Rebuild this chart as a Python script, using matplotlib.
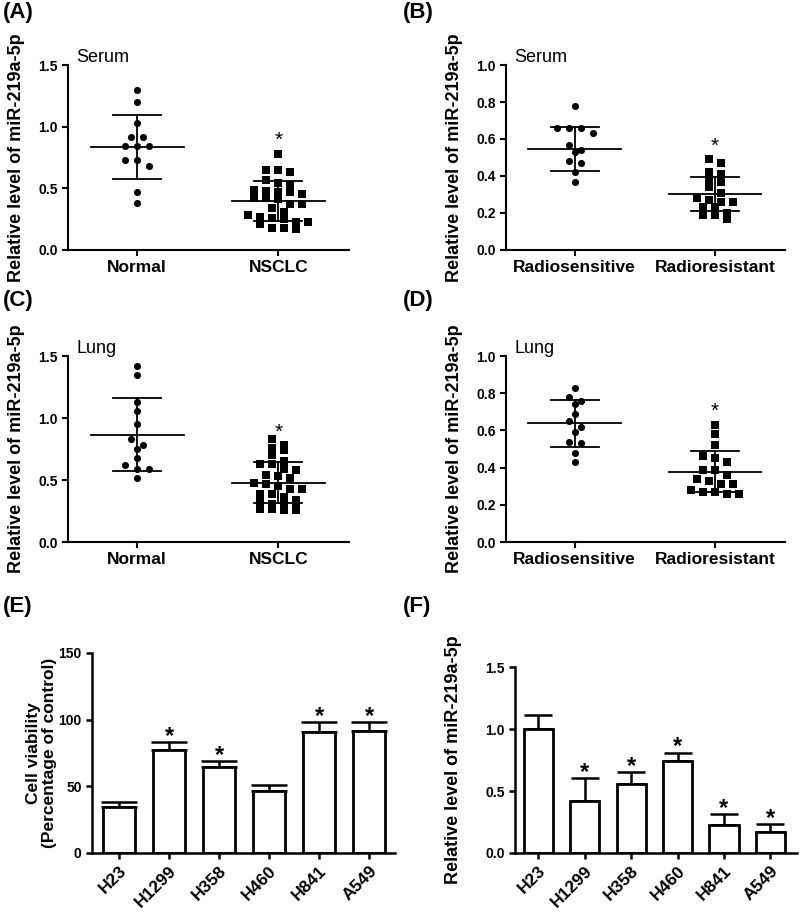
import numpy as np
import matplotlib
matplotlib.use('Agg')
import matplotlib.pyplot as plt

plt.rcParams['font.family'] = ['Liberation Sans', 'DejaVu Sans']

# scatter panels (A-D)
serum_normal = [1.30, 1.20, 1.03, 0.92, 0.92, 0.84, 0.84, 0.84, 0.73, 0.73, 0.68, 0.47, 0.38]
serum_nsclc = [0.78, 0.65, 0.63, 0.65, 0.54, 0.57, 0.53, 0.45, 0.49, 0.47, 0.47, 0.48,
               0.42, 0.41, 0.42, 0.34, 0.37, 0.37, 0.31, 0.25, 0.23, 0.28, 0.27, 0.23,
               0.26, 0.18, 0.17, 0.18, 0.21]
serum_sens = [0.78, 0.66, 0.66, 0.66, 0.63, 0.57, 0.53, 0.54, 0.47, 0.48, 0.42, 0.37]
serum_res = [0.49, 0.47, 0.42, 0.41, 0.38, 0.37, 0.34, 0.31, 0.28, 0.26, 0.26, 0.27,
             0.23, 0.23, 0.19, 0.17, 0.19, 0.20]
lung_normal = [1.42, 1.35, 1.13, 1.06, 0.95, 0.83, 0.78, 0.75, 0.68, 0.62, 0.59, 0.59, 0.52]
lung_nsclc = [0.83, 0.76, 0.74, 0.78, 0.70, 0.63, 0.59, 0.63, 0.65, 0.58, 0.54, 0.52,
              0.53, 0.47, 0.48, 0.45, 0.43, 0.43, 0.39, 0.36, 0.39, 0.34, 0.31, 0.33,
              0.31, 0.28, 0.27, 0.26, 0.26, 0.27]
lung_sens = [0.83, 0.76, 0.74, 0.78, 0.69, 0.65, 0.62, 0.59, 0.54, 0.53, 0.48, 0.43]
lung_res = [0.63, 0.58, 0.52, 0.46, 0.45, 0.43, 0.39, 0.39, 0.36, 0.34, 0.33, 0.31,
            0.31, 0.28, 0.27, 0.26, 0.26, 0.27]

# mean and SD as drawn in the figure
serum_nc_mean, serum_nc_sd = [0.835, 0.397], [0.258, 0.161]
serum_rr_mean, serum_rr_sd = [0.546, 0.303], [0.118, 0.090]
lung_nc_mean, lung_nc_sd = [0.867, 0.480], [0.298, 0.169]
lung_rr_mean, lung_rr_sd = [0.639, 0.379], [0.127, 0.112]

# bar panels (E-F)
cell_lines = ['H23', 'H1299', 'H358', 'H460', 'H841', 'A549']
viability = [34.5, 77.5, 64.5, 46.3, 90.5, 91.3]
viability_err = [3.8, 5.5, 4.8, 5.0, 7.5, 6.8]
viability_sig = [False, True, True, False, True, True]
mir_level = [1.00, 0.42, 0.56, 0.745, 0.225, 0.17]
mir_err = [0.11, 0.185, 0.095, 0.065, 0.09, 0.065]
mir_sig = [False, True, True, True, True, True]

ylab = 'Relative level of miR-219a-5p'

fig = plt.figure(figsize=(8, 9.17), dpi=100)


def rows_offsets(vals, px_per_unit, row_h=7.0, step=12.0):
    # GraphPad-like layout: bin into rows, centre each row (pixel offsets)
    vals = np.asarray(vals, float)
    offs = np.zeros(len(vals))
    order = list(np.argsort(vals)[::-1])
    rows, cur = [], [order[0]]
    for i in order[1:]:
        if (vals[cur[0]] - vals[i]) * px_per_unit < row_h:
            cur.append(i)
        else:
            rows.append(cur)
            cur = [i]
    rows.append(cur)
    for r in rows:
        n = len(r)
        for k, i in enumerate(r):
            offs[i] = (k - (n - 1) / 2) * step
    return offs


def style(ax, lw=1.5):
    for s in ['top', 'right']:
        ax.spines[s].set_visible(False)
    for s in ['left', 'bottom']:
        ax.spines[s].set_linewidth(lw)
    ax.tick_params(width=lw, length=4, direction='out')


def scatter_panel(rect, groups, means, sds, labels, ymax, yticks, tag, star, lab_x):
    ax = fig.add_axes(rect)
    style(ax)
    ax.set_xlim(-0.49, 1.5)
    ax.set_ylim(0, ymax)
    w_px = rect[2] * 800
    h_px = rect[3] * 917
    x_per_px = 1.99 / w_px
    for i, (vals, mk) in enumerate(zip(groups, ['o', 's'])):
        offs = rows_offsets(vals, h_px / ymax) * x_per_px
        ax.scatter(i + offs, vals, marker=mk, s=26, color='black', linewidths=0, zorder=3)
        m, sd = means[i], sds[i]
        ax.plot([i - 0.33, i + 0.33], [m, m], color='black', lw=1.3, zorder=4)
        ax.plot([i - 0.17, i + 0.17], [m + sd, m + sd], color='black', lw=1.3, zorder=4)
        ax.plot([i - 0.17, i + 0.17], [m - sd, m - sd], color='black', lw=1.3, zorder=4)
        ax.plot([i, i], [m - sd, m + sd], color='black', lw=1.3, zorder=4)
    ax.annotate('*', (1, max(groups[1])), xytext=(0, star), textcoords='offset points',
                ha='center', va='center', fontsize=15)
    ax.set_xticks([0, 1])
    ax.set_xticklabels(labels, fontsize=12.5, fontweight='bold')
    ax.set_yticks(yticks)
    ax.set_yticklabels(['%.1f' % t for t in yticks], fontsize=10, fontweight='bold')
    ax.set_ylabel(ylab, fontsize=13, fontweight='bold')
    ax.yaxis.set_label_coords(lab_x, 0.5)
    ax.text(0.03, 0.995, tag, transform=ax.transAxes, fontsize=13, va='bottom')
    return ax


def bar_panel(rect, vals, errs, sig, ymax, yticks, ticklabels, xlim, ylabel, lab_x, cap):
    ax = fig.add_axes(rect)
    style(ax, 1.8)
    x = np.arange(len(cell_lines))
    ax.bar(x, vals, width=0.63, color='white', edgecolor='black', linewidth=2, zorder=2)
    ax.errorbar(x, vals, yerr=[np.zeros(len(vals)), errs], fmt='none', ecolor='black',
                elinewidth=1.8, capsize=cap, capthick=1.8, zorder=1)
    for xi, v, e, s in zip(x, vals, errs, sig):
        if s:
            ax.annotate('*', (xi, v + e), xytext=(0, 4), textcoords='offset points',
                        ha='center', va='center', fontsize=17, fontweight='bold')
    ax.set_xlim(*xlim)
    ax.set_ylim(0, ymax)
    ax.set_xticks(x)
    ax.set_xticklabels(cell_lines, rotation=45, ha='right', rotation_mode='anchor',
                       fontsize=12.5, fontweight='bold')
    ax.set_yticks(yticks)
    ax.set_yticklabels(ticklabels, fontsize=10, fontweight='bold')
    ax.set_ylabel(ylabel, fontsize=13 if '\n' not in ylabel else 12.5,
                  fontweight='bold', linespacing=1.1)
    ax.yaxis.set_label_coords(lab_x, 0.5)
    return ax


scatter_panel([0.085, 0.7274, 0.351, 0.2017], [serum_normal, serum_nsclc],
              serum_nc_mean, serum_nc_sd, ['Normal', 'NSCLC'], 1.5, [0, 0.5, 1.0, 1.5],
              'Serum', 9.5, -0.153)
scatter_panel([0.6325, 0.7274, 0.349, 0.2017], [serum_sens, serum_res],
              serum_rr_mean, serum_rr_sd, ['Radiosensitive', 'Radioresistant'], 1.0,
              [0, 0.2, 0.4, 0.6, 0.8, 1.0], 'Serum', 9.5, -0.154)
scatter_panel([0.085, 0.4089, 0.351, 0.2028], [lung_normal, lung_nsclc],
              lung_nc_mean, lung_nc_sd, ['Normal', 'NSCLC'], 1.5, [0, 0.5, 1.0, 1.5],
              'Lung', 5, -0.153)
scatter_panel([0.6325, 0.4089, 0.349, 0.2028], [lung_sens, lung_res],
              lung_rr_mean, lung_rr_sd, ['Radiosensitive', 'Radioresistant'], 1.0,
              [0, 0.2, 0.4, 0.6, 0.8, 1.0], 'Lung', 10, -0.154)

bar_panel([0.115, 0.0698, 0.379, 0.2181], viability, viability_err, viability_sig, 150,
          [0, 50, 100, 150], ['0', '50', '100', '150'], (-0.54, 5.52),
          'Cell viability\n(Percentage of control)', -0.115, 13)
bar_panel([0.644, 0.0698, 0.3525, 0.2028], mir_level, mir_err, mir_sig, 1.5,
          [0, 0.5, 1.0, 1.5], ['0.0', '0.5', '1.0', '1.5'], (-0.5, 5.58),
          ylab, -0.188, 10)

for t, x, y in [('(A)', 0.004, 0.998), ('(B)', 0.504, 0.998), ('(C)', 0.004, 0.684),
                ('(D)', 0.504, 0.684), ('(E)', 0.004, 0.35), ('(F)', 0.504, 0.35)]:
    fig.text(x, y, t, fontsize=16, fontweight='bold', va='top', ha='left')

fig.savefig('out.png', dpi=100)
